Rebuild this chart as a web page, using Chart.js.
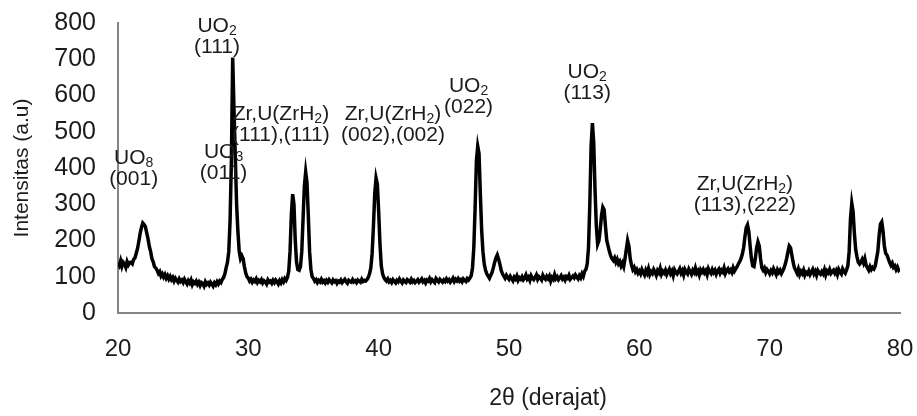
<!DOCTYPE html>
<html>
<head>
<meta charset="utf-8">
<script src="https://cdn.jsdelivr.net/npm/chart.js@4.4.1/dist/chart.umd.min.js"></script>
<style>
  html, body { margin: 0; padding: 0; background: #fff; }
  #wrap { width: 917px; height: 416px; }
</style>
</head>
<body>
<div id="wrap"><canvas id="xrd"></canvas></div>
<script>
// scan grid: 20.0 .. 80.0 degrees, 0.1 degree step
var startAngle = 20;
var stepAngle = 0.1;

// intensities, one row per degree (x.0 .. x.9)
var intensities = [
    138,131,144,129,140,135,126,142,133,139,  // 20
    140,136,148,152,165,178,198,220,236,248,  // 21
    244,238,222,205,184,170,150,141,128,124,  // 22
    118,109,114,102,108,99,106,96,103,94,     // 23
    101,92,98,88,96,90,85,94,87,91,           // 24
    84,93,86,80,89,83,91,78,86,82,            // 25
    88,79,85,76,84,81,74,86,79,83,            // 26
    77,85,80,74,83,78,86,80,88,84,            // 27
    92,98,108,125,140,170,255,420,705,560,    // 28
    430,300,225,170,150,158,150,128,110,100,  // 29
    96,88,93,85,91,87,94,84,90,86,            // 30
    92,83,89,86,80,91,85,88,82,90,            // 31
    84,91,86,80,89,83,92,86,95,90,            // 32
    98,115,170,270,328,300,200,140,120,118,   // 33
    128,170,260,350,389,360,270,170,120,100,  // 34
    95,88,92,84,90,86,93,85,89,83,            // 35
    90,85,92,87,83,91,86,89,82,88,            // 36
    85,91,84,89,93,86,82,90,87,85,            // 37
    92,86,89,84,91,88,85,93,87,90,            // 38
    88,92,98,108,125,165,240,330,372,355,     // 39
    280,190,130,108,98,92,88,94,86,90,        // 40
    84,92,87,83,90,86,94,88,83,91,            // 41
    87,84,92,89,85,93,86,90,84,88,            // 42
    92,85,89,94,86,90,83,91,88,95,            // 43
    86,92,88,84,95,90,86,93,89,85,            // 44
    91,87,94,88,92,85,90,96,87,93,            // 45
    89,95,88,92,86,94,90,87,95,91,            // 46
    96,103,125,180,290,420,460,440,330,230,   // 47
    170,135,118,108,102,96,104,112,125,140,   // 48
    152,160,148,135,118,108,102,96,104,98,    // 49
    93,101,95,89,99,94,102,90,97,93,          // 50
    100,92,97,105,94,99,90,103,96,92,         // 51
    98,105,93,100,96,91,104,97,93,101,        // 52
    95,102,88,98,93,106,95,100,92,97,         // 53
    103,94,99,91,100,96,104,93,98,102,        // 54
    97,105,99,94,103,97,108,101,115,120,      // 55
    135,180,300,460,524,470,340,240,190,200,  // 56
    230,270,292,285,240,200,185,170,158,150,  // 57
    145,152,140,148,136,142,130,138,128,150,  // 58
    175,200,185,150,132,120,126,114,120,110,  // 59
    116,108,120,112,105,118,110,122,106,114,  // 60
    109,120,113,104,117,111,123,107,115,110,  // 61
    118,106,114,121,109,116,103,119,112,108,  // 62
    115,122,110,117,105,120,113,108,121,114,  // 63
    107,118,112,124,110,116,105,119,113,120,  // 64
    111,117,106,122,114,109,120,112,118,107,  // 65
    116,121,110,118,113,124,109,117,122,114,  // 66
    119,112,125,116,122,128,135,142,150,162,  // 67
    180,210,235,243,225,185,150,130,128,150,  // 68
    180,196,185,150,125,118,124,112,120,115,  // 69
    108,117,111,122,114,106,119,112,118,109,  // 70
    116,124,135,150,168,185,180,160,140,125,  // 71
    118,110,121,106,115,109,118,104,112,108,  // 72
    116,106,113,120,108,115,104,117,111,107,  // 73
    114,108,119,105,116,111,120,109,114,118,  // 74
    110,117,106,120,113,108,122,115,110,119,  // 75
    130,170,260,303,280,220,175,155,140,135,  // 76
    140,148,138,150,132,125,118,128,120,126,  // 77
    122,130,150,170,215,245,251,225,185,165,  // 78
    160,150,140,132,138,126,130,120,127,118,  // 79
    122                                       // 80
];

var xTicks = [20, 30, 40, 50, 60, 70, 80];
var yTicks = [0, 100, 200, 300, 400, 500, 600, 700, 800];

// peak labels: text lines, anchored at (angle, intensity) of the first line
var peakNames = [
    [['UO', '2']], [['UO', '3']], [['UO', '8']],
    [['Zr,U(ZrH', '2', ')']], [['Zr,U(ZrH', '2', ')']],
    [['UO', '2']], [['UO', '2']], [['Zr,U(ZrH', '2', ')']]
];
var peakPlanes = ['(111)', '(011)', '(001)', '(111),(111)', '(002),(002)', '(022)', '(113)', '(113),(222)'];
var peakAngles = [27.6, 28.1, 21.2, 32.5, 41.1, 46.9, 56.0, 68.1];
var peakLevels = [790, 444, 428, 549, 549, 626, 665, 356];

var points = [];
for (var i = 0; i < intensities.length; i++) {
    points.push({x: +(startAngle + i * stepAngle).toFixed(1), y: intensities[i]});
}

var peakLabels = {
    id: 'peakLabels',
    afterDatasetsDraw: function (chart) {
        var ctx = chart.ctx;
        var xs = chart.scales.x, ys = chart.scales.y;
        ctx.save();
        ctx.fillStyle = '#1c1c1c';
        ctx.textBaseline = 'middle';
        ctx.textAlign = 'left';
        var mainFont = '21px "Liberation Sans", Arial, sans-serif';
        var subFont = '14px "Liberation Sans", Arial, sans-serif';
        for (var k = 0; k < peakPlanes.length; k++) {
            var cx = xs.getPixelForValue(peakAngles[k]);
            var cy = ys.getPixelForValue(peakLevels[k]);
            // first line, with subscript
            var segs = peakNames[k][0];
            var w = 0;
            for (var s = 0; s < segs.length; s++) {
                ctx.font = (s % 2 === 1) ? subFont : mainFont;
                w += ctx.measureText(segs[s]).width;
            }
            var x0 = cx - w / 2;
            for (s = 0; s < segs.length; s++) {
                ctx.font = (s % 2 === 1) ? subFont : mainFont;
                ctx.fillText(segs[s], x0, (s % 2 === 1) ? cy + 5 : cy);
                x0 += ctx.measureText(segs[s]).width;
            }
            // second line
            ctx.font = mainFont;
            ctx.textAlign = 'center';
            ctx.fillText(peakPlanes[k], cx, cy + 21);
            ctx.textAlign = 'left';
        }
        // x axis title
        ctx.font = '23px "Liberation Sans", sans-serif';
        ctx.textAlign = 'center';
        ctx.fillText('2\u03b8 (derajat)', (xs.left + xs.right) / 2 + 39, 399);
        ctx.restore();
    }
};

new Chart(document.getElementById('xrd').getContext('2d'), {
    type: 'line',
    data: {
        datasets: [{
            data: points,
            borderColor: '#000',
            borderWidth: 3.5,
            pointRadius: 0,
            tension: 0,
            fill: false
        }]
    },
    options: {
        responsive: true,
        maintainAspectRatio: false,
        animation: false,
        layout: {padding: {top: 23, right: 17, left: 0, bottom: 0}},
        plugins: {legend: {display: false}, tooltip: {enabled: false}},
        scales: {
            x: {
                type: 'linear',
                min: 20,
                max: 80,
                afterBuildTicks: function (axis) {
                    axis.ticks = xTicks.map(function (v) { return {value: v}; });
                },
                afterFit: function (axis) {
                    axis.height = 103;
                    axis.paddingLeft = 0;
                    axis.paddingRight = 0;
                },
                grid: {display: false, drawTicks: false},
                border: {display: true, color: '#858585', width: 2},
                ticks: {
                    padding: 22,
                    color: '#1c1c1c',
                    maxRotation: 0,
                    font: {family: '"Liberation Sans", sans-serif', size: 24}
                }
            },
            y: {
                min: 0,
                max: 800,
                afterBuildTicks: function (axis) {
                    axis.ticks = yTicks.map(function (v) { return {value: v}; });
                },
                afterFit: function (axis) {
                    axis.width = 118;
                    axis.paddingTop = 0;
                    axis.paddingBottom = 0;
                },
                grid: {display: false, drawTicks: false},
                border: {display: true, color: '#858585', width: 2},
                ticks: {
                    padding: 22,
                    color: '#1c1c1c',
                    font: {family: '"Liberation Sans", sans-serif', size: 25}
                },
                title: {
                    display: true,
                    text: 'Intensitas (a.u)',
                    color: '#1c1c1c',
                    padding: {top: 10, bottom: 0},
                    font: {family: '"Liberation Sans", sans-serif', size: 21}
                }
            }
        }
    },
    plugins: [peakLabels]
});
</script>
</body>
</html>
